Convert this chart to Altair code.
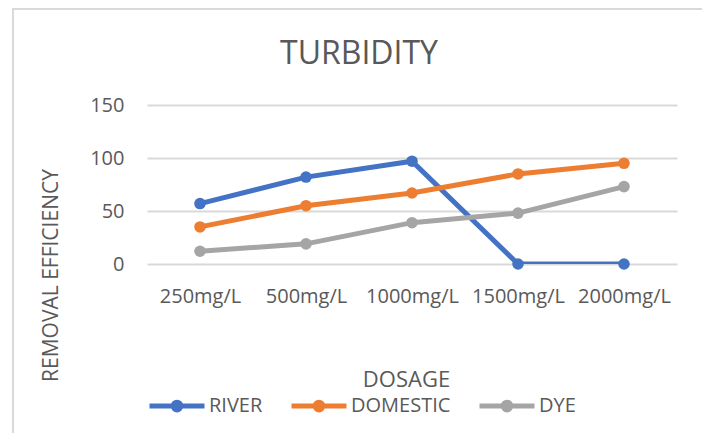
import altair as alt
import pandas as pd

dosage = ["250mg/L", "500mg/L", "1000mg/L", "1500mg/L", "2000mg/L"]
river = [57, 82, 97, 0, 0]
domestic = [35, 55, 67, 85, 95]
dye = [12, 19, 39, 48, 73]
series = ["RIVER", "DOMESTIC", "DYE"]
colors = ["#4472C4", "#ED7D31", "#A5A5A5"]

rows = []
for name, vals in zip(series, [river, domestic, dye]):
    for d, v in zip(dosage, vals):
        rows.append({"Dosage": d, "Series": name, "Value": v})
df = pd.DataFrame(rows)

FONT = "Open Sans"
GREY = "#595959"
sym = "M-1,0L1,0M-0.14,0A0.14,0.14,0,1,1,0.14,0A0.14,0.14,0,1,1,-0.14,0"

legend = alt.Legend(
    title=None, orient="none", direction="horizontal",
    legendX=0, legendY=271,
    symbolType=sym, symbolSize=3025, symbolStrokeWidth=5,
    labelFont=FONT, labelFontSize=20, labelColor=GREY,
    labelOffset=2, columnPadding=18,
)

x = alt.X("Dosage:N", sort=dosage, scale=alt.Scale(padding=0.5),
          axis=alt.Axis(title="DOSAGE", titleFont=FONT, titleFontSize=22,
                        titleColor=GREY, titleFontWeight="normal",
                        titleX=259, titleY=115, titleBaseline="middle",
                        labelAngle=0, labelFont=FONT, labelFontSize=20,
                        labelColor=GREY, labelPadding=22, ticks=False,
                        domain=False, grid=False))
y = alt.Y("Value:Q", scale=alt.Scale(domain=[0, 150]),
          axis=alt.Axis(title="REMOVAL EFFICIENCY", values=[0, 50, 100, 150],
                        titleFont=FONT, titleFontSize=21, titleColor=GREY,
                        titleFontWeight="normal", titleAngle=270,
                        titleX=-96, titleY=170, titleBaseline="middle",
                        labelFont=FONT, labelFontSize=20, labelColor=GREY,
                        labelPadding=23, ticks=False, domain=False,
                        grid=True, gridColor="#d9d9d9", gridWidth=2))
color = alt.Color("Series:N", scale=alt.Scale(domain=series, range=colors),
                  legend=legend)

frame = alt.Chart(pd.DataFrame({"a": [0]})).mark_rect(
    fill="transparent", stroke="#d9d9d9", strokeWidth=2
).encode(x=alt.value(-134), x2=alt.value(557), y=alt.value(-96), y2=alt.value(345))

lines = alt.Chart(df).mark_line(strokeWidth=5, clip=True).encode(
    x=x, y=y, color=color, detail="Series:N")
points = alt.Chart(df).mark_circle(size=133, opacity=1).encode(
    x=x, y=y, color=color)

chart = alt.layer(frame, lines, points).properties(
    width=530, height=159,
    padding={"left": 139, "top": 97, "right": 25, "bottom": 169},
    autosize="none",
    title=alt.Title("TURBIDITY", font=FONT, fontSize=32, color=GREY,
                    fontWeight="normal", anchor="middle", dx=-53,
                    offset=0, baseline="alphabetic", dy=88),
).configure_view(stroke=None)

chart.save("out.html", embed_options={"renderer": "svg", "actions": False})
